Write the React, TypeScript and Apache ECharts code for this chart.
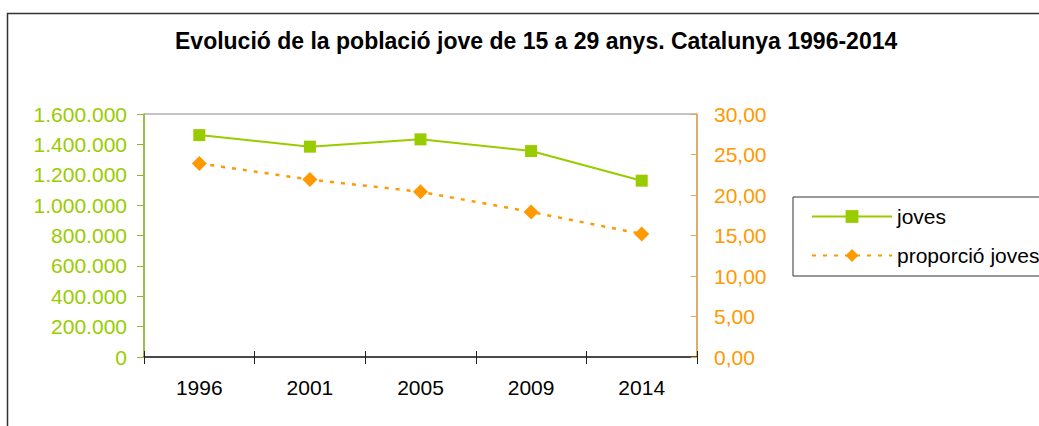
import React, { useEffect, useRef } from "react";
import * as echarts from "echarts";

const years = ["1996", "2001", "2005", "2009", "2014"];
const joves = [1461000, 1385000, 1433000, 1356000, 1161000];
const proporcio = [23.9, 21.9, 20.4, 17.9, 15.2];
const titleText = "Evolució de la població jove de 15 a 29 anys. Catalunya 1996-2014";

const FONT = "'Liberation Sans', Arial, sans-serif";
const GREEN = "#99cc00";
const ORANGE = "#ff9900";

const fmtThousands = (v: number) =>
  String(Math.round(v)).replace(/\B(?=(\d{3})+(?!\d))/g, ".");
const fmtDec = (v: number) => v.toFixed(2).replace(".", ",");

export default function App() {
  const ref = useRef<HTMLDivElement>(null);
  useEffect(() => {
    document.body.style.margin = "0";
    const chart = echarts.init(ref.current!, null, { renderer: "svg" });
    chart.setOption({
      animation: false,
      backgroundColor: "#fff",
      title: {
        text: titleText,
        left: 170,
        top: 24,
        textStyle: { fontFamily: FONT, fontSize: 23, fontWeight: "bold", color: "#000" },
      },
      graphic: [
        {
          type: "rect",
          shape: { x: 7.5, y: 13.5, width: 1200, height: 600 },
          style: { fill: "none", stroke: "#333", lineWidth: 1.5 },
          silent: true,
          z: 100,
        },
      ],
      legend: {
        orient: "vertical",
        left: 793,
        top: 197,
        padding: [9, 20, 10, 18],
        itemGap: 18,
        itemWidth: 80,
        itemHeight: 16,
        borderColor: "#333",
        borderWidth: 1,
        textStyle: { fontFamily: FONT, fontSize: 21, color: "#000" },
        data: ["joves", "proporció joves"],
      },
      grid: {
        left: 144,
        right: 342,
        top: 114,
        bottom: 69,
        show: true,
        borderColor: "#888",
        borderWidth: 1,
        backgroundColor: "transparent",
      },
      xAxis: [
        {
          type: "category",
          data: years,
          position: "bottom",
          boundaryGap: true,
          axisLine: { lineStyle: { color: "#222", width: 1.5 } },
          axisTick: { show: true, length: 7, lineStyle: { color: "#222" } },
          axisLabel: { fontFamily: FONT, fontSize: 21, color: "#000", margin: 20 },
        },
        {
          type: "category",
          data: years,
          position: "bottom",
          boundaryGap: true,
          axisLine: { show: false },
          axisTick: { show: true, inside: true, length: 6, lineStyle: { color: "#222" } },
          axisLabel: { show: false },
        },
      ],
      yAxis: [
        {
          type: "value",
          position: "left",
          min: 0,
          max: 1600000,
          interval: 200000,
          splitLine: { show: false },
          axisLine: { show: true, lineStyle: { color: "#8fb82a", width: 1.5 } },
          axisTick: { show: true, length: 7, lineStyle: { color: "#8fb82a" } },
          axisLabel: {
            fontFamily: FONT,
            fontSize: 21,
            color: GREEN,
            margin: 17,
            formatter: fmtThousands,
          },
        },
        {
          type: "value",
          position: "right",
          min: 0,
          max: 30,
          interval: 5,
          splitLine: { show: false },
          axisLine: { show: true, lineStyle: { color: "#e8a64c", width: 1.5 } },
          axisTick: { show: true, inside: true, length: 6, lineStyle: { color: "#e8a64c" } },
          axisLabel: {
            fontFamily: FONT,
            fontSize: 21,
            color: ORANGE,
            margin: 17,
            formatter: fmtDec,
          },
        },
      ],
      series: [
        {
          name: "joves",
          type: "line",
          xAxisIndex: 0,
          yAxisIndex: 0,
          data: joves,
          symbol: "rect",
          symbolSize: 12,
          itemStyle: { color: GREEN },
          lineStyle: { color: GREEN, width: 2 },
          z: 3,
        },
        {
          name: "proporció joves",
          type: "line",
          xAxisIndex: 0,
          yAxisIndex: 1,
          data: proporcio,
          symbol: "diamond",
          symbolSize: 15,
          itemStyle: { color: ORANGE },
          lineStyle: { color: ORANGE, width: 2.5, type: [4, 7] },
          z: 3,
        },
      ],
    });
    return () => chart.dispose();
  }, []);
  return <div ref={ref} style={{ width: 1039, height: 426 }} />;
}
